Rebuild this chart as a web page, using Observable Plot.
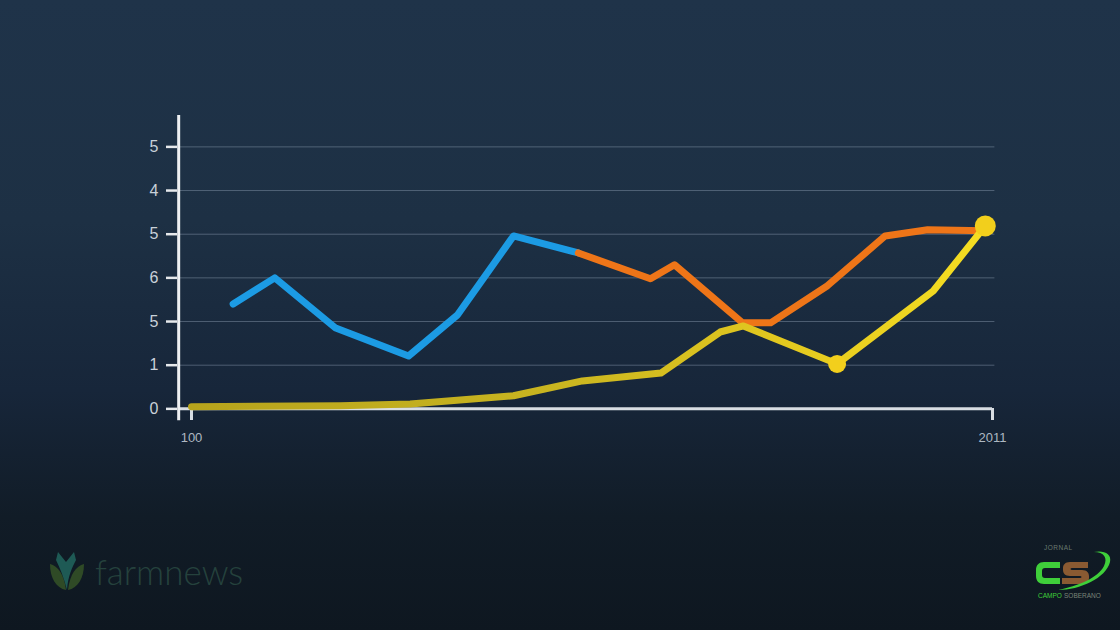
<!DOCTYPE html>
<html>
<head>
<meta charset="utf-8">
<script src="https://cdn.jsdelivr.net/npm/d3@7"></script>
<script src="https://cdn.jsdelivr.net/npm/@observablehq/plot@0.6"></script>
<style>
  html, body { margin: 0; padding: 0; }
  body {
    width: 1120px; height: 630px; overflow: hidden; position: relative;
    background: linear-gradient(180deg, #1f3349 0%, #1d3044 35%, #17263a 62%, #111c27 82%, #0e1720 100%);
    font-family: "Liberation Sans", Arial, sans-serif;
  }
  #chart { position: absolute; left: 0; top: 0; }
  #farm { position: absolute; left: 44px; top: 550px; display: flex; align-items: center; }
  #farm span { font-family: Lato, sans-serif; font-weight: 300; font-size: 35px; color: #25423d; margin-left: 3px; }
  #cs { position: absolute; left: 1030px; top: 540px; width: 84px; height: 62px; }
</style>
</head>
<body>
<div id="chart"></div>
<div id="farm">
  <svg width="48" height="42" viewBox="0 0 48 42">
    <path d="M6 14 C14 16 20 24 22 40 C12 38 6 28 6 14 Z" fill="#2f4a26"/>
    <path d="M40 14 C32 16 26 24 24 40 C34 38 40 28 40 14 Z" fill="#2f4a26"/>
    <path d="M14 2 L22 12 L30 2 L32 10 C28 18 24 26 23 40 C20 28 16 18 12 10 Z" fill="#1e5a55"/>
  </svg>
  <span>farmnews</span>
</div>
<svg id="cs" viewBox="0 0 84 62">
  <text x="14" y="10" font-size="6.5" fill="#6a7a70" font-family="Liberation Sans" letter-spacing="0.5">JORNAL</text>
  <path d="M30 22 L14 22 C9 22 6 25 6 30 L6 36 C6 41 9 44 14 44 L30 44 L30 38 L15 38 C13 38 12 37 12 35 L12 31 C12 29 13 28 15 28 L30 28 Z" fill="#3fcf3a"/>
  <path d="M58 22 L40 22 C35 22 33 25 33 28 L33 30 C33 33 35 36 40 36 L50 36 C52 36 52 38 50 38 L32 38 L32 44 L52 44 C57 44 59 41 59 38 L59 36 C59 33 57 30 52 30 L42 30 C40 30 40 28 42 28 L58 28 Z" fill="#8a5a32"/>
  <path d="M28 50 C50 50 76 38 80 22 C82 14 74 10 64 12 C74 12 78 18 74 26 C68 38 48 46 28 50 Z" fill="#3fcf3a"/>
  <text x="8" y="58" font-size="6.5" fill="#3fcf3a" font-family="Liberation Sans">CAMPO</text>
  <text x="34" y="58" font-size="6.5" fill="#7a8478" font-family="Liberation Sans">SOBERANO</text>
</svg>
<script>
// ---- data ----
const blueX = [5.2, 10.4, 18.0, 27.1, 33.2, 40.2, 48.3];
const blueY = [2.40, 3.00, 1.85, 1.21, 2.15, 3.96, 3.57];
const orangeX = [48.3, 57.3, 60.3, 68.8, 72.3, 79.4, 86.6, 91.9, 98.9];
const orangeY = [3.57, 2.98, 3.30, 1.97, 1.97, 2.82, 3.96, 4.10, 4.08];
const yellowX = [0, 18.6, 27.3, 40.2, 48.8, 58.6, 66.0, 68.9, 80.6, 92.6, 99.1];
const yellowY = [0.05, 0.07, 0.11, 0.30, 0.64, 0.82, 1.76, 1.90, 1.03, 2.70, 4.19];
const dotX = [80.6, 99.1];
const dotY = [1.03, 4.19];
const dotR = [9, 10.5];
const yTicks = [0, 1, 2, 3, 4, 5, 6];
const yTickLabels = ["0", "1", "5", "6", "5", "4", "5"];
const xTicks = [0, 100];
const xTickLabels = ["100", "2011"];
// axis geometry (data units)
const axisX0 = -1.6, gridX1 = 100.3, yAxisBottom = -0.27, yAxisTop = 6.72;

const toPts = (xs, ys) => xs.map((x, i) => ({x, y: ys[i]}));
const blue = toPts(blueX, blueY);
const orange = toPts(orangeX, orangeY);
const yellow = toPts(yellowX, yellowY);
const dots = dotX.map((x, i) => ({x, y: dotY[i], r: dotR[i]}));

const shadow = "drop-shadow(0px 2px 2px rgba(0,0,0,0.45))";

const chart = Plot.plot({
  width: 1120,
  height: 630,
  marginLeft: 191,
  marginRight: 128,
  marginTop: 118,
  marginBottom: 202,
  style: {background: "transparent", fontFamily: "Liberation Sans, Arial, sans-serif"},
  x: {domain: [0, 100], axis: null},
  y: {domain: [-0.45, 6.65], axis: null},
  r: {type: "identity"},
  marks: [
    Plot.ruleY(yTicks.slice(1), {x1: axisX0, x2: gridX1, stroke: "#8da0b3", strokeOpacity: 0.45, strokeWidth: 1}),
    Plot.axisY({
      ticks: yTicks, tickFormat: (d, i) => yTickLabels[yTicks.indexOf(d)],
      tickSize: 11, tickPadding: 8, dx: -14, stroke: "#e6e9ec", strokeWidth: 2.5,
      fill: "#c9d1d9", fontSize: 16, label: null, anchor: "left"
    }),
    Plot.axisX({
      ticks: xTicks, tickFormat: (d) => xTickLabels[xTicks.indexOf(d)],
      tickSize: 12, tickPadding: 12, dy: -20, stroke: "#d8dde2", strokeWidth: 3,
      fill: "#aeb8c2", fontSize: 13, label: null, anchor: "bottom"
    }),
    Plot.ruleY([0], {x1: axisX0, x2: 100, stroke: "#d8dde2", strokeWidth: 3}),
    Plot.ruleX([axisX0], {y1: yAxisBottom, y2: yAxisTop, stroke: "#eef0f2", strokeWidth: 3}),
    Plot.line(blue, {x: "x", y: "y", stroke: "#1c9be4", strokeWidth: 7, strokeLinejoin: "round", style: {filter: shadow}}),
    Plot.line(orange, {x: "x", y: "y", stroke: "#ee7518", strokeWidth: 7, strokeLinejoin: "round", style: {filter: shadow}}),
    Plot.line(yellow, {x: "x", y: "y", stroke: "url(#ygrad)", strokeWidth: 7, strokeLinejoin: "round", style: {filter: shadow}}),
    Plot.dot(dots, {x: "x", y: "y", r: "r", fill: "#f2cf1c", stroke: null, style: {filter: shadow}})
  ]
});

// yellow gradient definition
const ns = "http://www.w3.org/2000/svg";
const defs = document.createElementNS(ns, "defs");
const grad = document.createElementNS(ns, "linearGradient");
grad.setAttribute("id", "ygrad");
grad.setAttribute("gradientUnits", "userSpaceOnUse");
grad.setAttribute("x1", "191"); grad.setAttribute("x2", "992");
grad.setAttribute("y1", "0"); grad.setAttribute("y2", "0");
[["0%", "#b7a41c"], ["45%", "#c9b520"], ["75%", "#e4c91f"], ["100%", "#f6df22"]].forEach(([o, c]) => {
  const s = document.createElementNS(ns, "stop");
  s.setAttribute("offset", o); s.setAttribute("stop-color", c);
  grad.appendChild(s);
});
defs.appendChild(grad);
chart.insertBefore(defs, chart.firstChild);

document.getElementById("chart").appendChild(chart);
</script>
</body>
</html>
